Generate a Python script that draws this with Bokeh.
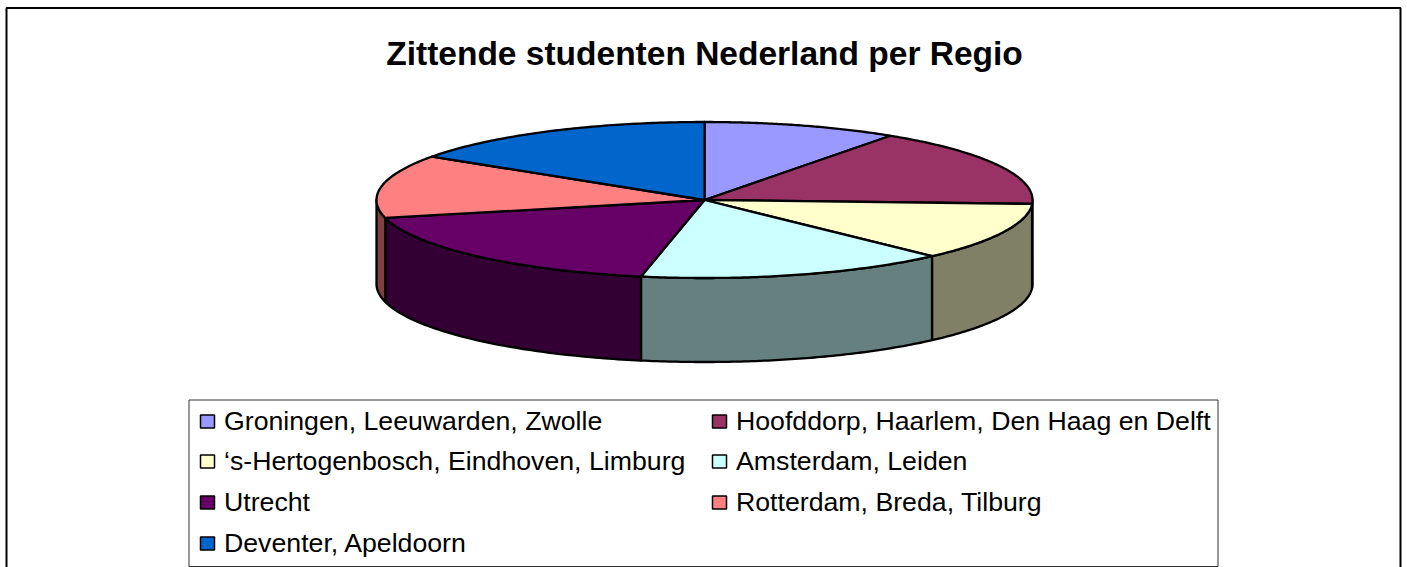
import numpy as np
from bokeh.plotting import figure
from bokeh.models import Range1d
from bokeh.core.properties import value
from bokeh.embed import file_html
from bokeh.resources import INLINE

TITLE = "Zittende studenten Nederland per Regio"
regions = ["Groningen, Leeuwarden, Zwolle", "Hoofddorp, Haarlem, Den Haag en Delft",
           "\u2018s-Hertogenbosch, Eindhoven, Limburg", "Amsterdam, Leiden",
           "Utrecht", "Rotterdam, Breda, Tilburg", "Deventer, Apeldoorn"]
shares = [9.6, 16.2, 12.0, 15.3, 18.2, 13.1, 15.6]
top_colors = ["#9999FF", "#993366", "#FFFFCC", "#CCFFFF", "#660066", "#FF8080", "#0066CC"]
wall_colors = ["#4C4C80", "#4C1933", "#808066", "#668080", "#330033", "#804040", "#003366"]

CX, CY, RX, RY, DEPTH = 704.0, 199.5, 328.0, 78.0, 84.0

p = figure(width=1407, height=567, output_backend="svg", toolbar_location=None,
           x_range=Range1d(0, 1407), y_range=Range1d(567, 0), min_border=0,
           outline_line_color=None, background_fill_color="white")
p.xaxis.visible = False
p.yaxis.visible = False
p.grid.visible = False


def pt(deg, dy=0.0):
    r = np.radians(deg)
    return CX + RX * np.sin(r), CY - RY * np.cos(r) + dy


# outer frame (open at the bottom)
p.line([6, 6, 1400, 1400], [567, 7.5, 7.5, 567], line_color="black", line_width=2)

edges = np.concatenate([[0.0], np.cumsum(shares) / np.sum(shares) * 360.0])

# side walls: only the part of each slice facing the viewer
for a, b, c in zip(edges[:-1], edges[1:], wall_colors):
    lo, hi = max(a, 90.0), min(b, 270.0)
    if lo >= hi:
        continue
    t = np.linspace(lo, hi, 80)
    x1, y1 = pt(t)
    x2, y2 = pt(t[::-1], DEPTH)
    p.patch(np.r_[x1, x2], np.r_[y1, y2], fill_color=c, line_color="black",
            line_width=2.3, line_join="round")

# top faces
for a, b, c in zip(edges[:-1], edges[1:], top_colors):
    t = np.linspace(a, b, 80)
    x, y = pt(t)
    p.patch(np.r_[CX, x], np.r_[CY, y], fill_color=c, line_color="black",
            line_width=2.3, line_join="round")

# title
p.text([704], [52.5], text=[TITLE], text_font=value("Liberation Sans"), text_font_style="bold",
       text_font_size="33.5px", text_color="black", text_align="center", text_baseline="middle")

# legend box (runs to the bottom of the picture)
p.line([1217.5, 188.5, 188.5, 1217.5, 1217.5], [399.5, 399.5, 566, 566, 399.5],
       line_color="#333333", line_width=1)

col_swatch = [207, 719]
col_text = [223.5, 735.5]
row_y = [421, 461, 502, 543]
for i, (name, c) in enumerate(zip(regions, top_colors)):
    col, row = i % 2, i // 2
    p.rect([col_swatch[col]], [row_y[row]], width=14, height=13, fill_color=c,
           line_color="black", line_width=1.5)
    p.text([col_text[col]], [row_y[row] - 1], text=[name], text_font=value("Liberation Sans"),
           text_font_size="26.7px", text_color="black", text_align="left", text_baseline="middle")

open("out.html", "w").write(file_html(p, INLINE))
